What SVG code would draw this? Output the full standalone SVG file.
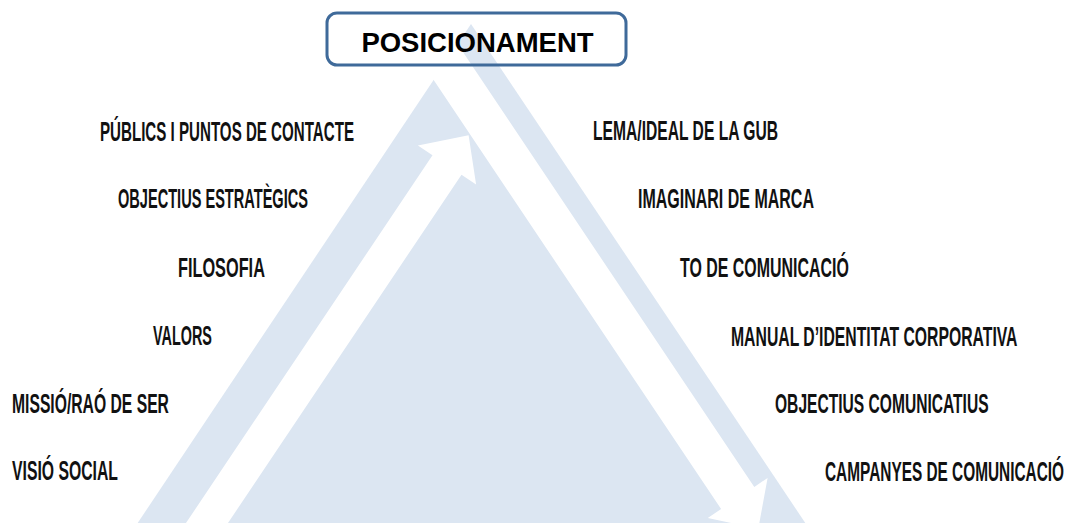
<svg xmlns="http://www.w3.org/2000/svg" width="1069" height="523" viewBox="0 0 1069 523">
  <style>
    .lbl { font-family: "Liberation Sans", Arial, sans-serif; font-weight: bold; font-size: 27.5px; fill: #111111; }
    .title { font-family: "Liberation Sans", Arial, sans-serif; font-weight: bold; font-size: 27.5px; fill: #000000; }
    .arrow { fill: #ffffff; stroke: none; }
  </style>
  <rect x="0" y="0" width="1069" height="523" fill="#ffffff"/>
  <g id="triangle">
    <polygon points="471,24 133,530 810,530" fill="#dce6f2"/>
  </g>
  <g id="connectors">
    <polygon class="arrow" points="181.3,530 432.5,155.3 417.9,145.5 468.6,135.3 476.1,184.5 461.5,174.7 223.3,530"/>
    <polygon class="arrow" points="386.8,10 434.8,10 754.3,486.9 767.6,477.9 758.3,528.7 707.8,518.1 721.1,509.1"/>
  </g>
  <g id="node-posicionament">
    <rect x="327" y="13" width="299" height="52" rx="10" ry="10" fill="none" stroke="#3f6a9a" stroke-width="3"/>
    <text class="title" x="477.5" y="52" text-anchor="middle">POSICIONAMENT</text>
  </g>
  <g id="node-publics"><text class="lbl" transform="translate(100,141) scale(0.550,1)">PÚBLICS I PUNTOS DE CONTACTE</text></g>
  <g id="node-objectius-estrategics"><text class="lbl" transform="translate(118,208) scale(0.530,1)">OBJECTIUS ESTRATÈGICS</text></g>
  <g id="node-filosofia"><text class="lbl" transform="translate(178,277) scale(0.593,1)">FILOSOFIA</text></g>
  <g id="node-valors"><text class="lbl" transform="translate(153,345) scale(0.524,1)">VALORS</text></g>
  <g id="node-missio"><text class="lbl" transform="translate(12,413) scale(0.571,1)">MISSIÓ/RAÓ DE SER</text></g>
  <g id="node-visio"><text class="lbl" transform="translate(12,480) scale(0.573,1)">VISIÓ SOCIAL</text></g>
  <g id="node-lema"><text class="lbl" transform="translate(593,140) scale(0.569,1)">LEMA/IDEAL DE LA GUB</text></g>
  <g id="node-imaginari"><text class="lbl" transform="translate(638,208) scale(0.582,1)">IMAGINARI DE MARCA</text></g>
  <g id="node-to"><text class="lbl" transform="translate(680,277) scale(0.580,1)">TO DE COMUNICACIÓ</text></g>
  <g id="node-manual"><text class="lbl" transform="translate(731,346) scale(0.573,1)">MANUAL D’IDENTITAT CORPORATIVA</text></g>
  <g id="node-objectius-comunicatius"><text class="lbl" transform="translate(775,413) scale(0.567,1)">OBJECTIUS COMUNICATIUS</text></g>
  <g id="node-campanyes"><text class="lbl" transform="translate(825,481) scale(0.560,1)">CAMPANYES DE COMUNICACIÓ</text></g>
</svg>
